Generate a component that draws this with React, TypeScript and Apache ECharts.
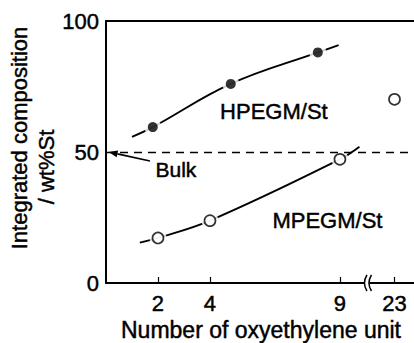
import React, { useEffect, useRef } from "react";
import * as echarts from "echarts";

// ---- data ----
const yTicks = [0, 50, 100];
const xTickValues = [2, 4, 9, 23];
const xTickLabels = ["2", "4", "9", "23"];

// HPEGM/St (filled circles)
const hpegmN = [1.8, 4.8, 8.15];
const hpegmSt = [59.5, 76, 88];
// fitted curve drawn through them
const hpegmFitN = [1.0, 1.8, 4.8, 8.15, 8.95];
const hpegmFitSt = [55.8, 59.5, 76, 88, 90.8];

// MPEGM/St (open circles)
const mpegmN = [2, 4, 9, 23];
const mpegmSt = [17.2, 23.8, 47.2, 70.1];
const mpegmFitN = [1.3, 2, 4, 9, 9.75];
const mpegmFitSt = [15.4, 17.2, 23.8, 47.2, 52];

const bulkValue = 50;

// broken axis: values beyond the break are shifted left
const BREAK_AT = 10;
const BREAK_SHIFT = 11.9;
const pos = (n: number) => (n > BREAK_AT ? n - BREAK_SHIFT : n);
const X_MAX = 11.85;

const FONT = "Liberation Sans, Arial, Helvetica, sans-serif";
const TXT_STROKE = 0.45;

export default function App() {
  const ref = useRef<HTMLDivElement>(null);

  useEffect(() => {
    if (!ref.current) return;
    const chart = echarts.init(ref.current, undefined, { renderer: "svg" });

    const tickPositions = xTickValues.map(pos);
    const halo = (data: number[][]) => ({
      type: "scatter",
      data,
      symbol: "circle",
      symbolSize: 17,
      itemStyle: { color: "#fff" },
      z: 3,
      silent: true,
    });

    const hpegmPts = hpegmN.map((n, i) => [pos(n), hpegmSt[i]]);
    const mpegmPts = mpegmN.map((n, i) => [pos(n), mpegmSt[i]]);

    chart.setOption({
      animation: false,
      backgroundColor: "#fff",
      grid: { left: 106, right: 0, top: 21, bottom: 60 },
      xAxis: [
        {
          type: "value",
          min: 0,
          max: X_MAX,
          axisLine: { show: true, onZero: false, lineStyle: { color: "#000", width: 2 } },
          axisTick: {
            show: true,
            inside: true,
            length: 6,
            customValues: tickPositions,
            lineStyle: { color: "#000", width: 1.2 },
          },
          axisLabel: {
            show: true,
            customValues: tickPositions,
            margin: 9,
            color: "#000",
            fontSize: 22,
            fontFamily: FONT,
            textBorderColor: "#000",
            textBorderWidth: TXT_STROKE,
            formatter: (v: number) => {
              let best = 0;
              tickPositions.forEach((p, i) => {
                if (Math.abs(p - v) < Math.abs(tickPositions[best] - v)) best = i;
              });
              return xTickLabels[best];
            },
          },
          splitLine: { show: false },
        },
        {
          type: "value",
          position: "top",
          min: 0,
          max: X_MAX,
          axisLine: { show: true, onZero: false, lineStyle: { color: "#000", width: 2 } },
          axisTick: { show: false },
          axisLabel: { show: false },
          splitLine: { show: false },
        },
      ],
      yAxis: {
        type: "value",
        min: 0,
        max: 100,
        interval: 50,
        axisLine: { show: true, onZero: false, lineStyle: { color: "#000", width: 2 } },
        axisTick: { show: false },
        axisLabel: {
          color: "#000",
          fontSize: 22,
          fontFamily: FONT,
          margin: 7,
          textBorderColor: "#000",
          textBorderWidth: TXT_STROKE,
          customValues: yTicks,
        },
        splitLine: { show: false },
      },
      series: [
        {
          type: "line",
          data: hpegmFitN.map((n, i) => [pos(n), hpegmFitSt[i]]),
          smooth: 0.4,
          showSymbol: false,
          lineStyle: { color: "#000", width: 1.9 },
          z: 2,
          silent: true,
        },
        {
          type: "line",
          data: mpegmFitN.map((n, i) => [pos(n), mpegmFitSt[i]]),
          smooth: 0.4,
          showSymbol: false,
          lineStyle: { color: "#000", width: 1.9 },
          z: 2,
          silent: true,
          markLine: {
            silent: true,
            symbol: "none",
            label: { show: false },
            lineStyle: { color: "#000", width: 1.3, type: [8, 6] },
            data: [{ yAxis: bulkValue }],
          },
        },
        halo(hpegmPts),
        halo(mpegmPts),
        {
          type: "scatter",
          data: hpegmPts,
          symbol: "circle",
          symbolSize: 10,
          itemStyle: { color: "#000" },
          z: 4,
        },
        {
          type: "scatter",
          data: mpegmPts,
          symbol: "circle",
          symbolSize: 11,
          itemStyle: { color: "#fff", borderColor: "#000", borderWidth: 1.7 },
          z: 4,
        },
      ],
    });

    const px = (x: number, y: number) =>
      chart.convertToPixel({ gridIndex: 0 }, [x, y]) as number[];

    // annotation anchors (data space)
    const arrowFrom = px(1.69, 46.6);
    const arrowTo = px(0.1, bulkValue);
    const dx = arrowTo[0] - arrowFrom[0];
    const dy = arrowTo[1] - arrowFrom[1];
    const len = Math.hypot(dx, dy);
    const ux = dx / len;
    const uy = dy / len;
    const ah = 9;
    const aw = 3.5;
    const base = [arrowTo[0] - ux * ah, arrowTo[1] - uy * ah];
    const bulkText = px(2.69, 43.4);
    const hText = px(6.46, 65.3);
    const mText = px(8.52, 24);
    const brk = px(10.04, 0);

    const breakCurve = (x: number) => ({
      type: "bezierCurve",
      shape: {
        x1: x + 2.5,
        y1: brk[1] - 8,
        x2: x + 2.5,
        y2: brk[1] + 8,
        cpx1: x - 2.5,
        cpy1: brk[1],
      },
      style: { stroke: "#000", lineWidth: 1.5, fill: null },
      z: 100,
    });

    const txt = (text: string, x: number, y: number, size: number, rotation = 0) => ({
      type: "text",
      x,
      y,
      rotation,
      style: {
        text,
        fill: "#000",
        stroke: "#000",
        lineWidth: TXT_STROKE,
        font: `${size}px ${FONT}`,
        textAlign: "center",
        textVerticalAlign: "middle",
      },
      z: 100,
    });

    chart.setOption({
      graphic: [
        {
          type: "rect",
          shape: { x: brk[0] - 2.5, y: brk[1] - 2, width: 5, height: 4 },
          style: { fill: "#fff" },
          z: 99,
        },
        breakCurve(brk[0] - 2.5),
        breakCurve(brk[0] + 2),
        {
          type: "line",
          shape: { x1: arrowFrom[0], y1: arrowFrom[1], x2: base[0], y2: base[1] },
          style: { stroke: "#000", lineWidth: 1.6 },
          z: 100,
        },
        {
          type: "polygon",
          shape: {
            points: [
              arrowTo,
              [base[0] - uy * aw, base[1] + ux * aw],
              [base[0] + uy * aw, base[1] - ux * aw],
            ],
          },
          style: { fill: "#000" },
          z: 100,
        },
        txt("Bulk", bulkText[0], bulkText[1], 21),
        txt("HPEGM/St", hText[0], hText[1], 22),
        txt("MPEGM/St", mText[0], mText[1], 22),
        txt("Integrated composition", 19, 138, 22, Math.PI / 2),
        txt("/ wt%St", 46, 167, 22, Math.PI / 2),
        txt("Number of oxyethylene unit", 261, 330, 23),
      ],
    });

    return () => chart.dispose();
  }, []);

  return (
    <div
      ref={ref}
      style={{ position: "fixed", left: 0, top: 0, width: 414, height: 343 }}
    />
  );
}
